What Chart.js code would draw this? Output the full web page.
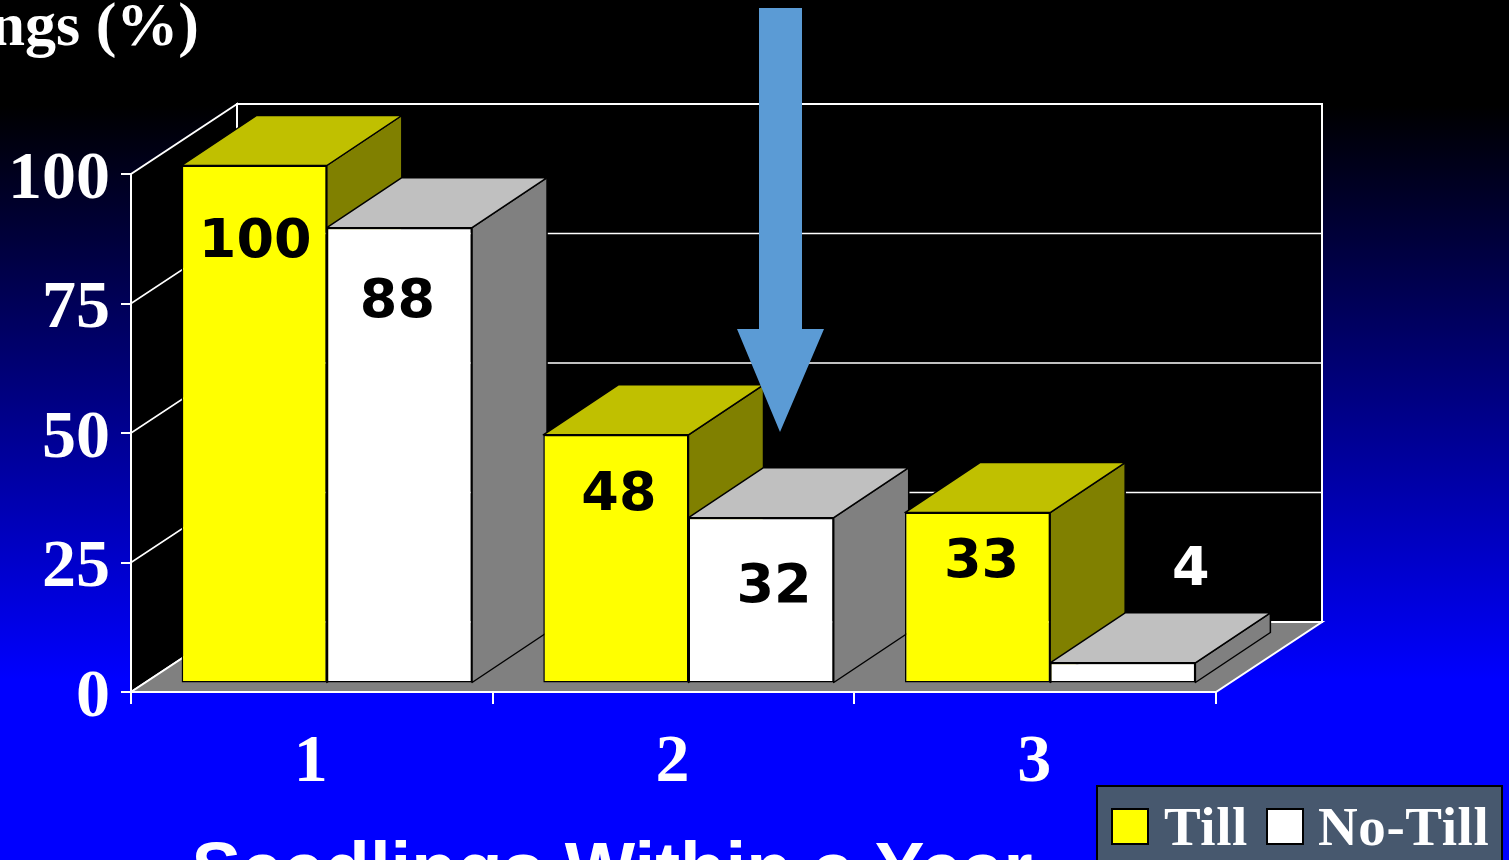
<!DOCTYPE html>
<html lang="en">
<head>
    <meta charset="UTF-8">
    <title>Seedlings (%)</title>
    <script src="https://cdn.jsdelivr.net/npm/chart.js"></script>
    <style>
        html, body {
            margin: 0;
            padding: 0;
            width: 1509px;
            height: 860px;
            overflow: hidden;
        }
        body {
            background: linear-gradient(to bottom, #000 106px, #0000ff 680px);
        }
        canvas {
            display: block;
        }
    </style>
</head>
<body>
    <canvas id="myChart" width="1509" height="860"></canvas>

    <script>
        const categories = ['1', '2', '3'];
        const tillValues = [100, 48, 33];
        const noTillValues = [88, 32, 4];
        const yTickValues = [0, 25, 50, 75, 100];

        // depth of the whole floor, and of a single bar
        const wallDepth = { x: 106, y: -70 };
        const barDepth = { x: 75, y: -50 };
        // bars stand a little way back from the front edge of the floor
        const barShift = { x: 15, y: -8.5 };

        // the value labels are placed by hand in the original
        const labelNudge = [
            [[1, 77], [3, 61], [4, 50]],
            [[-2, 75], [13, 70], [68, -92]]
        ];

        const serif = '"Liberation Serif", serif';

        function poly(ctx, pts, fill, stroke, lw) {
            ctx.beginPath();
            pts.forEach((p, i) => i ? ctx.lineTo(p[0], p[1]) : ctx.moveTo(p[0], p[1]));
            ctx.closePath();
            if (fill) {
                ctx.fillStyle = fill;
                ctx.fill();
            }
            if (stroke) {
                ctx.strokeStyle = stroke;
                ctx.lineWidth = lw;
                ctx.stroke();
            }
        }

        // black walls, grey floor and the grid lines behind the bars
        const wallsPlugin = {
            id: 'walls',
            beforeDraw(chart) {
                const { ctx, chartArea: a, scales } = chart;
                const dx = wallDepth.x, dy = wallDepth.y;
                ctx.save();
                poly(ctx, [[a.left, a.top], [a.left + dx, a.top + dy], [a.left + dx, a.bottom + dy], [a.left, a.bottom]], '#000', '#fff', 2);
                poly(ctx, [[a.left + dx, a.top + dy], [a.right + dx, a.top + dy], [a.right + dx, a.bottom + dy], [a.left + dx, a.bottom + dy]], '#000', '#fff', 2);
                poly(ctx, [[a.left, a.bottom], [a.left + dx, a.bottom + dy], [a.right + dx, a.bottom + dy], [a.right, a.bottom]], '#808080', '#fff', 2);

                ctx.strokeStyle = '#fff';
                ctx.lineWidth = 1.5;
                yTickValues.slice(1, -1).forEach(v => {
                    const y = scales.y.getPixelForValue(v);
                    ctx.beginPath();
                    ctx.moveTo(a.left, y);
                    ctx.lineTo(a.left + dx, y + dy);
                    ctx.lineTo(a.right + dx, y + dy);
                    ctx.stroke();
                });
                ctx.restore();
            }
        };

        // top and side faces of each bar, taken from the bar elements
        const depthPlugin = {
            id: 'depth',
            beforeDatasetsDraw(chart) {
                const ctx = chart.ctx;
                const dx = barDepth.x, dy = barDepth.y;
                ctx.save();
                ctx.translate(barShift.x, barShift.y);
                ctx.lineJoin = 'round';
                categories.forEach((c, i) => {
                    chart.data.datasets.forEach((ds, d) => {
                        const bar = chart.getDatasetMeta(d).data[i];
                        const l = bar.x - bar.width / 2, r = bar.x + bar.width / 2;
                        poly(ctx, [[r, bar.base], [r + dx, bar.base + dy], [r + dx, bar.y + dy], [r, bar.y]], ds.sideColor, '#000', 1.5);
                        poly(ctx, [[l, bar.y], [l + dx, bar.y + dy], [r + dx, bar.y + dy], [r, bar.y]], ds.topColor, '#000', 1.5);
                    });
                });
            },
            afterDatasetsDraw(chart) {
                chart.ctx.restore();
            }
        };

        const overlayPlugin = {
            id: 'overlay',
            afterDraw(chart) {
                const ctx = chart.ctx;
                ctx.save();

                // value labels
                ctx.font = 'bold 54px "DejaVu Sans"';
                ctx.textAlign = 'center';
                ctx.textBaseline = 'middle';
                chart.data.datasets.forEach((ds, d) => {
                    chart.getDatasetMeta(d).data.forEach((bar, i) => {
                        const nudge = labelNudge[d][i];
                        ctx.fillStyle = ds.data[i] === 4 ? '#fff' : '#000';
                        ctx.fillText(String(ds.data[i]), bar.x + barShift.x + nudge[0], bar.y + barShift.y + nudge[1]);
                    });
                });

                // arrow
                poly(ctx, [[759, 8], [802, 8], [802, 329], [824, 329], [780, 432], [737, 329], [759, 329]], '#5b9bd5');

                ctx.textBaseline = 'alphabetic';
                ctx.fillStyle = '#fff';

                // cut off by the edge of the slide
                ctx.font = 'bold 62px ' + serif;
                ctx.textAlign = 'right';
                ctx.fillText('Seedlings (%)', 199, 45);

                ctx.font = 'bold 74.6px "Liberation Sans"';
                ctx.textAlign = 'center';
                ctx.fillText('Seedlings Within a Year', 612, 894);

                // legend
                poly(ctx, [[1097, 786], [1502, 786], [1502, 880], [1097, 880]], '#47586e', '#000', 2);
                poly(ctx, [[1112, 809], [1148, 809], [1148, 844], [1112, 844]], '#ffff00', '#000', 2);
                poly(ctx, [[1267, 809], [1303, 809], [1303, 844], [1267, 844]], '#ffffff', '#000', 2);
                ctx.fillStyle = '#fff';
                ctx.font = 'bold 55px ' + serif;
                ctx.textAlign = 'left';
                ctx.letterSpacing = '0.6px';
                ctx.fillText(chart.data.datasets[0].label, 1164, 845);
                ctx.fillText(chart.data.datasets[1].label, 1318, 845);
                ctx.letterSpacing = '0px';
                ctx.restore();
            }
        };

        new Chart(document.getElementById('myChart'), {
            type: 'bar',
            data: {
                labels: categories,
                datasets: [{
                    label: 'Till',
                    data: tillValues,
                    backgroundColor: '#ffff00',
                    topColor: '#c0c000',
                    sideColor: '#808000',
                    borderColor: '#000',
                    borderWidth: 1.5,
                    borderSkipped: false,
                    clip: false
                }, {
                    label: 'No-Till',
                    data: noTillValues,
                    backgroundColor: '#ffffff',
                    topColor: '#c0c0c0',
                    sideColor: '#808080',
                    borderColor: '#000',
                    borderWidth: 1.5,
                    borderSkipped: false,
                    clip: false
                }]
            },
            options: {
                responsive: false,
                animation: false,
                layout: { padding: { top: 174, right: 293, left: 0, bottom: 0 } },
                datasets: { bar: { categoryPercentage: 0.803, barPercentage: 1 } },
                plugins: {
                    legend: { display: false },
                    title: { display: false },
                    tooltip: { enabled: false }
                },
                scales: {
                    x: {
                        afterFit(scale) { scale.height = 168; },
                        border: { color: '#fff', width: 2 },
                        grid: { drawOnChartArea: false, color: '#fff', lineWidth: 2, tickLength: 12, offset: true },
                        ticks: {
                            color: '#fff',
                            padding: 19,
                            labelOffset: -1,
                            maxRotation: 0,
                            font: { family: serif, size: 68, weight: 'bold' }
                        }
                    },
                    y: {
                        min: 0,
                        max: 100,
                        afterFit(scale) { scale.width = 131; },
                        afterBuildTicks(scale) { scale.ticks = yTickValues.map(value => ({ value })); },
                        border: { color: '#fff', width: 2 },
                        grid: { drawOnChartArea: false, color: '#fff', lineWidth: 2, tickLength: 10 },
                        ticks: {
                            color: '#fff',
                            padding: 11,
                            labelOffset: 6,
                            font: { family: serif, size: 68, weight: 'bold' }
                        }
                    }
                }
            },
            plugins: [wallsPlugin, depthPlugin, overlayPlugin]
        });
    </script>
</body>
</html>
